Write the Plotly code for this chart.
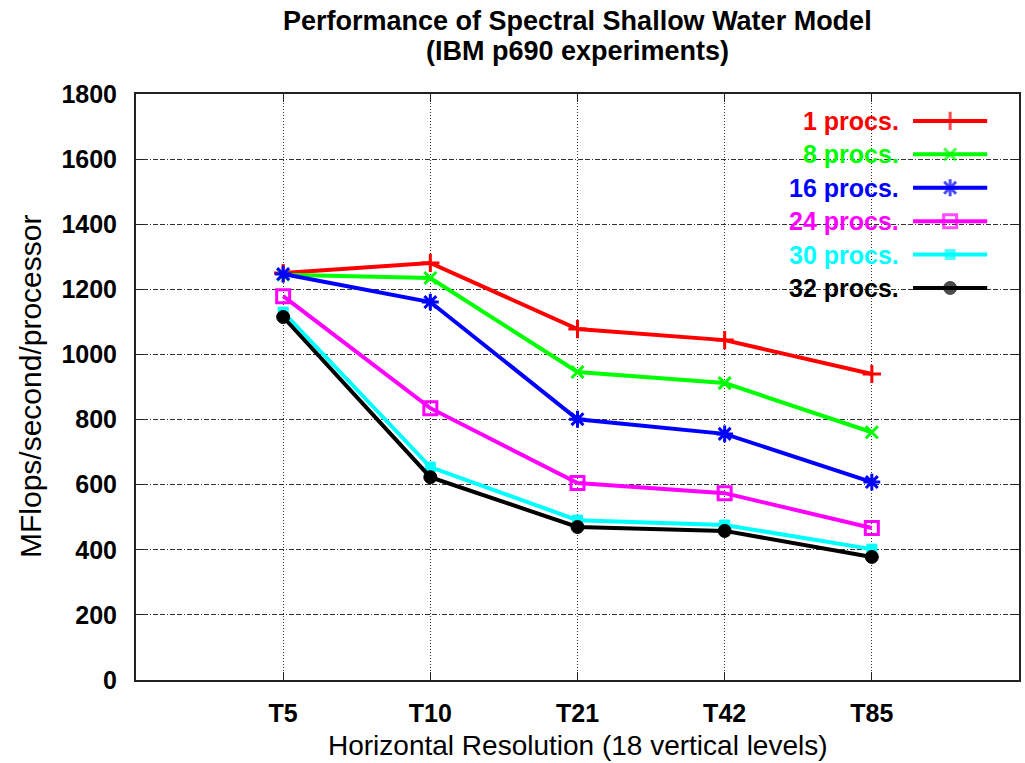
import plotly.graph_objects as go

categories = ["T5", "T10", "T21", "T42", "T85"]
series_names = ["1 procs.", "8 procs.", "16 procs.", "24 procs.", "30 procs.", "32 procs."]
procs_1 = [1250, 1281, 1078, 1044, 940]
procs_8 = [1245, 1235, 946, 912, 761]
procs_16 = [1247, 1161, 801, 756, 608]
procs_24 = [1179, 835, 605, 574, 467]
procs_30 = [1130, 654, 491, 476, 402]
procs_32 = [1115, 623, 470, 458, 378]
series_values = [procs_1, procs_8, procs_16, procs_24, procs_30, procs_32]

title_lines = ["Performance of Spectral Shallow Water Model", "(IBM p690 experiments)"]
x_title = "Horizontal Resolution (18 vertical levels)"
y_title = "MFlops/second/processor"

colors = ["#ff0000", "#00ff00", "#0000ff", "#ff00ff", "#00ffff", "#000000"]
symbols = ["cross-thin-open", "x-thin-open", "asterisk-open", "square-open", "square", "circle"]
msizes = [13, 12, 14, 13, 10, 13]
mlw = [3, 3, 3, 3, 1, 1]

FONT = "Liberation Sans, Arial, sans-serif"

fig = go.Figure()
for name, vals, c, s, ms, lw in zip(series_names, series_values, colors, symbols, msizes, mlw):
    fig.add_trace(go.Scatter(
        x=categories, y=vals, mode="lines+markers", name=name,
        line=dict(color=c, width=4),
        marker=dict(symbol=s, size=ms, color=c, line=dict(color=c, width=lw)),
        showlegend=False,
    ))

# manual legend (text left, sample right) on an overlay axis pair
row0, drow = 0.954, 0.057
for i, (name, c, s, ms, lw) in enumerate(zip(series_names, colors, symbols, msizes, mlw)):
    yy = row0 - i * drow
    fig.add_trace(go.Scatter(
        x=[0.880, 0.922, 0.964], y=[yy, yy, yy], xaxis="x2", yaxis="y2",
        mode="lines+markers", line=dict(color=c, width=4),
        marker=dict(symbol=s, size=[0, ms, 0], color=c, line=dict(color=c, width=lw)),
        showlegend=False, hoverinfo="skip",
    ))
    fig.add_annotation(x=0.866, y=yy, xref="paper", yref="paper", text=name,
                       showarrow=False, xanchor="right", yanchor="middle",
                       font=dict(family=FONT, size=25, color=c, weight="bold"))

for ty, line in zip([1.1246, 1.0734], title_lines):
    fig.add_annotation(x=0.5, y=ty, xref="paper", yref="paper", text=line,
                       showarrow=False, xanchor="center", yanchor="middle",
                       font=dict(family=FONT, size=27, color="black", weight="bold"))

fig.add_annotation(x=0.5, y=-0.111, xref="paper", yref="paper",
                   text=x_title, showarrow=False,
                   xanchor="center", yanchor="middle",
                   font=dict(family=FONT, size=28, color="black"))
fig.add_annotation(x=-0.12, y=0.5, xref="paper", yref="paper",
                   text=y_title, showarrow=False, textangle=-90,
                   xanchor="center", yanchor="middle",
                   font=dict(family=FONT, size=30, color="black"))

fig.update_layout(
    width=1025, height=763,
    margin=dict(l=136, r=4, t=94, b=83),
    paper_bgcolor="white", plot_bgcolor="white",
    xaxis=dict(type="category", range=[-1, 5], showline=True, mirror="allticks",
               linecolor="#222", linewidth=2, ticks="inside", ticklen=8, tickcolor="#222",
               showgrid=True, gridcolor="#333", gridwidth=1, griddash="1px,2px",
               tickfont=dict(family=FONT, size=25, color="black", weight="bold"),
               ticklabelstandoff=10, zeroline=False),
    yaxis=dict(range=[0, 1800], dtick=200, showline=True, mirror="allticks",
               linecolor="#222", linewidth=2, ticks="inside", ticklen=8, tickcolor="#222",
               showgrid=True, gridcolor="#333", gridwidth=1, griddash="5px,2px,5px,2px,1px,2px",
               tickfont=dict(family=FONT, size=25, color="black", weight="bold"),
               ticklabelstandoff=12, zeroline=False),
    xaxis2=dict(overlaying="x", range=[0, 1], visible=False, fixedrange=True),
    yaxis2=dict(overlaying="y", range=[0, 1], visible=False, fixedrange=True),
)

fig.write_html("out.html", config={"displayModeBar": False},
               post_script="document.body.style.margin='0';document.body.style.overflow='hidden';")
